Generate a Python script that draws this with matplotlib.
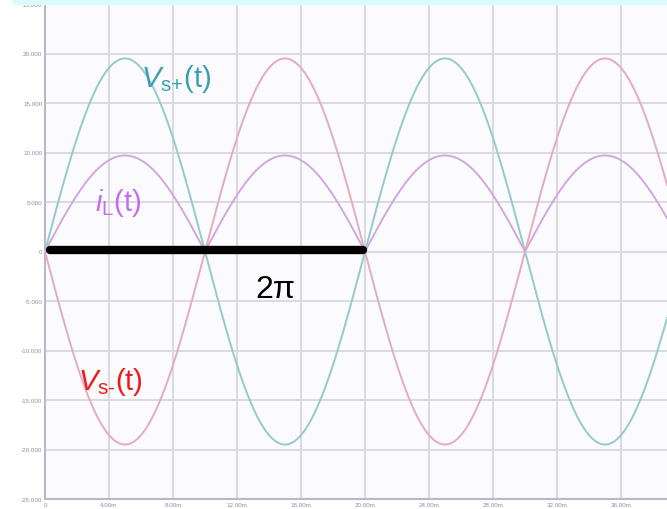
import numpy as np
import matplotlib
matplotlib.use("Agg")
import matplotlib.pyplot as plt
from matplotlib.patches import Rectangle

plt.rcParams['mathtext.fontset'] = 'custom'
plt.rcParams['mathtext.rm'] = 'Liberation Sans'
plt.rcParams['mathtext.it'] = 'Liberation Sans:italic'
plt.rcParams['font.family'] = ['Liberation Sans', 'DejaVu Sans']

# Waveform parameters (peak values and period in grid units)
vs_peak = 19.5
il_peak = 9.7
period = 5.0

y_ticks = [-25, -20, -15, -10, -5, 0, 5, 10, 15, 20, 25]
y_tick_labels = ["-25.000", "-20.000", "-15.000", "-10.000", "-5.000", "0",
                 "5.000", "10.000", "15.000", "20.000", "25.000"]
x_ticks = [0, 1, 2, 3, 4, 5, 6, 7, 8, 9]
x_tick_labels = ["0", "4.00m", "8.00m", "12.00m", "16.00m", "20.00m",
                 "24.00m", "28.00m", "32.00m", "36.00m"]

t = np.linspace(0, 10, 2000)
phase = 2 * np.pi * t / period
vs_plus = vs_peak * np.sin(phase)
vs_minus = -vs_peak * np.sin(phase)
i_l = il_peak * np.abs(np.sin(phase))

W, H = 667, 510
fig = plt.figure(figsize=(W / 100, H / 100), dpi=100)
fig.patch.set_facecolor('white')

# thin cyan strip along the top edge
fig.patches.append(Rectangle((13 / W, 1 - 5 / H), 1, 5 / H,
                             transform=fig.transFigure, color='#d9fbfd', zorder=0))

left, right, top, bottom = 45, 667, 5, 500
ax = fig.add_axes([left / W, 1 - bottom / H, (right - left) / W, (bottom - top) / H])
ax.set_facecolor('#fbfbfd')
ax.set_xlim(0, (right - left) / 64.0)
ax.set_ylim(-25, 25)

ax.set_yticks(y_ticks)
ax.set_yticklabels(y_tick_labels)
ax.set_xticks(x_ticks)
ax.set_xticklabels(x_tick_labels)
ax.tick_params(axis='both', labelsize=4.5, colors='#8e8e9a', length=0, pad=2)
ax.grid(True, color='#d9d7df', linewidth=1.3)
ax.set_axisbelow(True)
for side in ['top', 'right']:
    ax.spines[side].set_visible(False)
for side in ['left', 'bottom']:
    ax.spines[side].set_color('#b8b8c8')
    ax.spines[side].set_linewidth(1.5)

ax.plot(t, vs_plus, color='#95cacd', lw=1.4, zorder=3)
ax.plot(t, vs_minus, color='#e4abc1', lw=1.4, zorder=3)
ax.plot(t, i_l, color='#d2a8dc', lw=1.4, zorder=3)

# one full period marker
ax.plot([0.08, 4.97], [0.2, 0.2], color='black', lw=6, solid_capstyle='round', zorder=5)
ax.text(3.6, -3.8, '2π', fontsize=23, color='black', ha='center', va='center', zorder=6)

ax.text(1.5, 17.5, r'$\mathit{V}_{\mathrm{s{+}}}$(t)', fontsize=21, color='#3b9fb1',
        ha='left', va='center', zorder=6)
ax.text(0.78, 5.0, r'$\mathit{i}_{\mathrm{L}}$(t)', fontsize=21, color='#c46cf2',
        ha='left', va='center', zorder=6)
ax.text(0.52, -13.1, r'$\mathit{V}_{\mathrm{s\text{-}}}$(t)', fontsize=21, color='#f01818',
        ha='left', va='center', zorder=6)

fig.savefig('out.png', dpi=100)
